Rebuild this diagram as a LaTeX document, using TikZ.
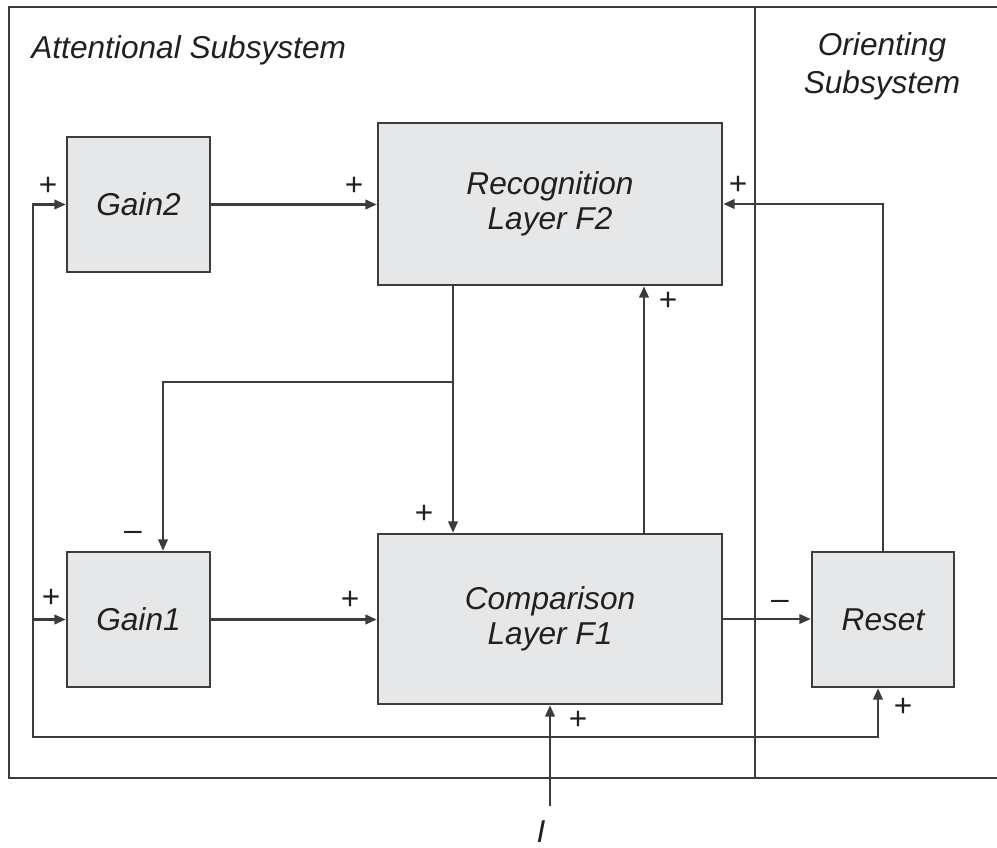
\documentclass[tikz,border=0pt]{standalone}
\usepackage{fontspec}
\setmainfont{Liberation Sans}
\usepackage{tikz}
\usetikzlibrary{arrows.meta}

\definecolor{boxgray}{HTML}{E6E7E8}
\definecolor{linegray}{HTML}{3C3C3C}
\definecolor{inkdark}{HTML}{231F20}

\begin{document}
\begin{tikzpicture}[x=0.02cm, y=-0.02cm,
    block/.style={draw=linegray, line width=1.5pt, fill=boxgray, rectangle, align=center, inner sep=0pt, text=inkdark, font=\fontsize{18}{20}\selectfont\itshape},
    title/.style={inner sep=0pt, align=center, text=inkdark, font=\fontsize{18}{21.5}\selectfont\itshape},
    sign/.style={inner sep=0pt, text=inkdark, font=\fontsize{18}{18}\selectfont},
    wire/.style={draw=linegray, line width=1.2pt},
    >={Triangle[length=6.5pt, width=5.5pt]}]
    \clip (0, 0) rectangle (997, 848);

    % frame of the two subsystems
    \draw[wire, line width=1.4pt] (9, 7) rectangle (1010, 778);
    \draw[wire, line width=1.4pt] (755, 7) -- (755, 778);
    \node[title, anchor=west] at (31, 50) (attn) {Attentional Subsystem};
    \node[title] at (882, 66) (orient) {Orienting\\Subsystem};

    \node[block, minimum width=2.86cm, minimum height=2.7cm] at (138.5, 204.5) (gaintwo) {Gain2};
    \node[block, minimum width=6.88cm, minimum height=3.24cm] at (550, 204) (recog) {Recognition\\Layer F2};
    \node[block, minimum width=2.86cm, minimum height=2.7cm] at (138.5, 619.5) (gainone) {Gain1};
    \node[block, minimum width=6.88cm, minimum height=3.4cm] at (550, 619) (comp) {Comparison\\Layer F1};
    \node[block, minimum width=2.84cm, minimum height=2.7cm] at (883, 619.5) (reset) {Reset};
    \node[title] at (541, 832) (ilabel) {I};

    \coordinate (split) at (453, 382);
    \coordinate (junction) at (550, 737);
    \coordinate (input) at (550, 806);
    \coordinate (leftbus) at (33, 737);

    \draw[wire, ->] (gaintwo.east) -- (gaintwo.east -| recog.west);
    \draw[wire, ->] (reset.north) |- (recog.east);
    \draw[wire, ->] (recog.south -| split) -- (comp.north -| split);
    \draw[wire, ->] (split) -| ([xshift=0.49cm]gainone.north);
    \draw[wire, ->] ([xshift=1.88cm]comp.north) -- ([xshift=1.88cm]recog.south);
    \draw[wire, ->] (gainone.east) -- (gainone.east -| comp.west);
    \draw[wire, ->] (comp.east) -- (comp.east -| reset.west);
    \draw[wire, ->] (input) -- (comp.south);
    \draw[wire, ->] (junction) -| ([xshift=-0.1cm]reset.south);
    \draw[wire, ->] (junction) -- (leftbus) |- (gaintwo.west);
    \draw[wire, ->] (leftbus |- gainone.west) -- (gainone.west);

    % signs at the inputs
    \node[sign] at (48, 186) (pgaintwo) {+};
    \node[sign] at (354, 186) (precogl) {+};
    \node[sign] at (738, 185) (precogr) {+};
    \node[sign] at (668, 301) (precogb) {+};
    \node[sign] at (424, 514) (pcompt) {+};
    \node[sign] at (133, 536) (mgainone) {--};
    \node[sign] at (51, 598) (pgainone) {+};
    \node[sign] at (350, 600) (pcompl) {+};
    \node[sign] at (780, 605) (mreset) {--};
    \node[sign] at (578, 720) (pcompb) {+};
    \node[sign] at (903, 707) (preset) {+};
\end{tikzpicture}
\end{document}
